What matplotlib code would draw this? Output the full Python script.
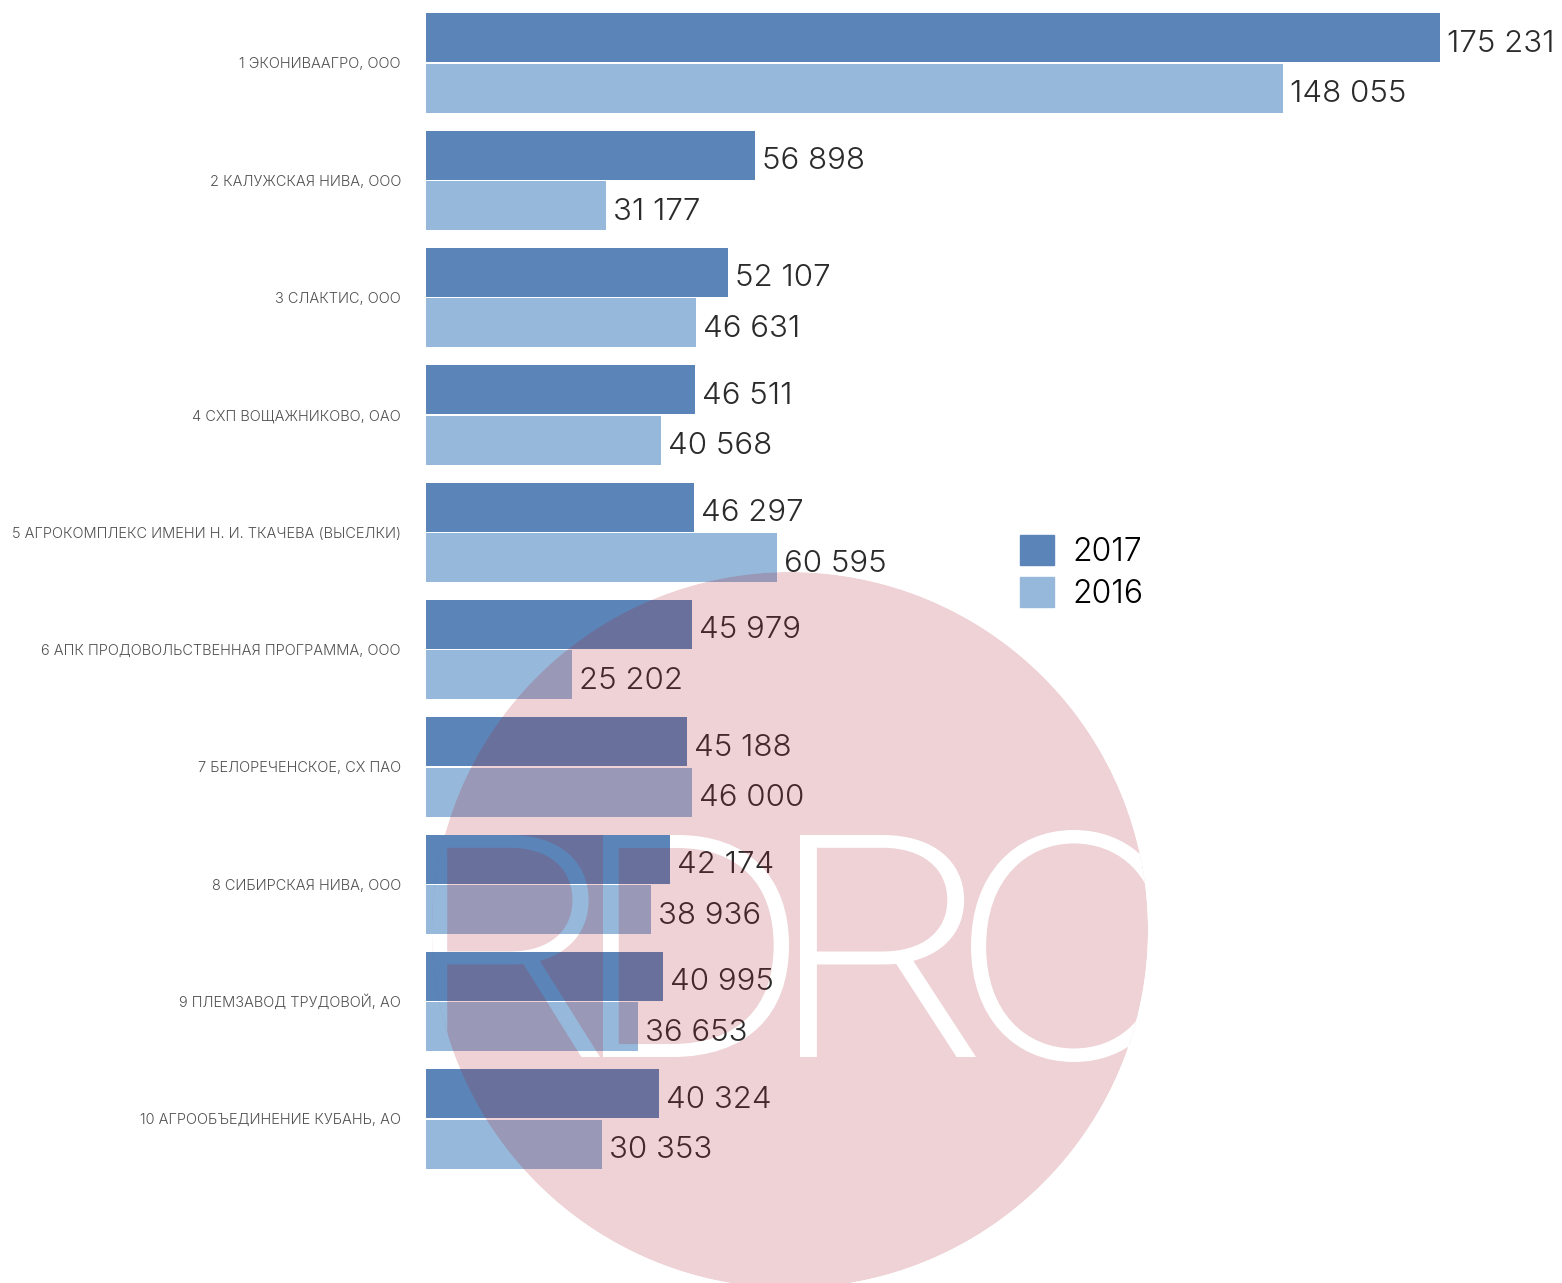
import matplotlib
matplotlib.use("Agg")
import matplotlib.pyplot as plt
from matplotlib.patches import Patch, PathPatch, Circle
from matplotlib.path import Path
from matplotlib.textpath import TextPath
from matplotlib.font_manager import FontProperties
from matplotlib.transforms import Affine2D
import numpy as np

companies = [
    "1 ЭКОНИВААГРО, ООО",
    "2 КАЛУЖСКАЯ НИВА, ООО",
    "3 СЛАКТИС, ООО",
    "4 СХП ВОЩАЖНИКОВО, ОАО",
    "5 АГРОКОМПЛЕКС ИМЕНИ Н. И. ТКАЧЕВА (ВЫСЕЛКИ)",
    "6 АПК ПРОДОВОЛЬСТВЕННАЯ ПРОГРАММА, ООО",
    "7 БЕЛОРЕЧЕНСКОЕ, СХ ПАО",
    "8 СИБИРСКАЯ НИВА, ООО",
    "9 ПЛЕМЗАВОД ТРУДОВОЙ, АО",
    "10 АГРООБЪЕДИНЕНИЕ КУБАНЬ, АО",
]
v2017 = [175231, 56898, 52107, 46511, 46297, 45979, 45188, 42174, 40995, 40324]
v2016 = [148055, 31177, 46631, 40568, 60595, 25202, 46000, 38936, 36653, 30353]
series_labels = ["2017", "2016"]

c2017 = "#5b85b8"
c2016 = "#96b8da"

W, H = 1562, 1283
fig = plt.figure(figsize=(W / 100, H / 100), dpi=100)
# bars start at x=426 px, longest bar ends at x=1440 px
ax = fig.add_axes([426 / W, 0, (1440 - 426) / W, 1])

y = np.arange(len(companies))
h = 0.418
off = 0.2155
ax.barh(y - off, v2017, height=h, color=c2017, zorder=2)
ax.barh(y + off, v2016, height=h, color=c2016, zorder=2)

ax.set_xlim(0, max(v2017))
ax.set_ylim(10.398, -0.537)
ax.axis("off")

val_font = dict(family="Inter", weight=300, fontsize=22.5, color="#2b2b2b")
pad = 0.0069 * max(v2017)
base = 0.12  # baseline sits a bit below the bar centre
for yi, a, b in zip(y, v2017, v2016):
    ax.text(a + pad, yi - off + base, f"{a:,}".replace(",", " "), va="baseline", ha="left",
            clip_on=False, **val_font)
    ax.text(b + pad, yi + off + base, f"{b:,}".replace(",", " "), va="baseline", ha="left",
            clip_on=False, **val_font)

for yi, name in zip(y, companies):
    ax.text(-25 / 1014 * max(v2017), yi + 0.045, name, va="baseline", ha="right",
            fontsize=10.5, color="#505050", family="Inter", weight=300, clip_on=False)

handles = [Patch(color=c2017, label=series_labels[0]), Patch(color=c2016, label=series_labels[1])]
fig.legend(handles=handles, loc="upper left", bbox_to_anchor=(1020 / W, 1 - 535 / H),
           frameon=False, handlelength=1.05, handleheight=1.05, handletextpad=0.6,
           labelspacing=0.3, borderpad=0, borderaxespad=0,
           prop=FontProperties(family="Inter", weight=300, size=23))

# watermark: translucent circle with the letters "RDRC" knocked out
cx, cy, r = 790, H - 930, 358
wm_font = FontProperties(family="Inter", weight=200)
letters = ["R", "D", "R", "C"]
# letter boxes in pixels (left, right, top, bottom), measured from the top edge
boxes = [(431, 600, 835, 1057), (603, 789, 835, 1057),
         (800, 976, 835, 1057), (971, 1168, 830, 1062)]
glyph_paths = []
for ch, (l, rr, t, b) in zip(letters, boxes):
    tp = TextPath((0, 0), ch, size=100, prop=wm_font)
    ext = tp.get_extents()
    tr = Affine2D().translate(-ext.x0, -ext.y0) \
        .scale((rr - l) / ext.width, (b - t) / ext.height).translate(l, H - b)
    glyph_paths.append(tr.transform_path(tp))


def signed_area(poly):
    xs, ys = poly[:, 0], poly[:, 1]
    return 0.5 * np.sum(xs * np.roll(ys, -1) - np.roll(xs, -1) * ys)


# orientation of the glyph outlines, so the circle can wind the other way
polys = glyph_paths[1].to_polygons()
outer = max(polys, key=lambda p: abs(signed_area(p)))
sign = -np.sign(signed_area(outer))
ang = np.linspace(0, 2 * np.pi, 721)[:-1] * sign
circ_verts = np.column_stack([cx + r * np.cos(ang), cy + r * np.sin(ang)])
circle = Path(np.vstack([circ_verts, circ_verts[:1]]),
              [Path.MOVETO] + [Path.LINETO] * (len(circ_verts) - 1) + [Path.CLOSEPOLY])

compound = Path.make_compound_path(circle, *glyph_paths)
pix = Affine2D().scale(1 / W, 1 / H) + fig.transFigure
mark = PathPatch(compound, facecolor="#aa1e2d", edgecolor="none", alpha=0.2,
                 transform=pix, zorder=10)
clip = Circle((cx, cy), r, transform=pix)
fig.patches.append(mark)
mark.set_clip_path(clip)

fig.savefig("out.png", dpi=100)
